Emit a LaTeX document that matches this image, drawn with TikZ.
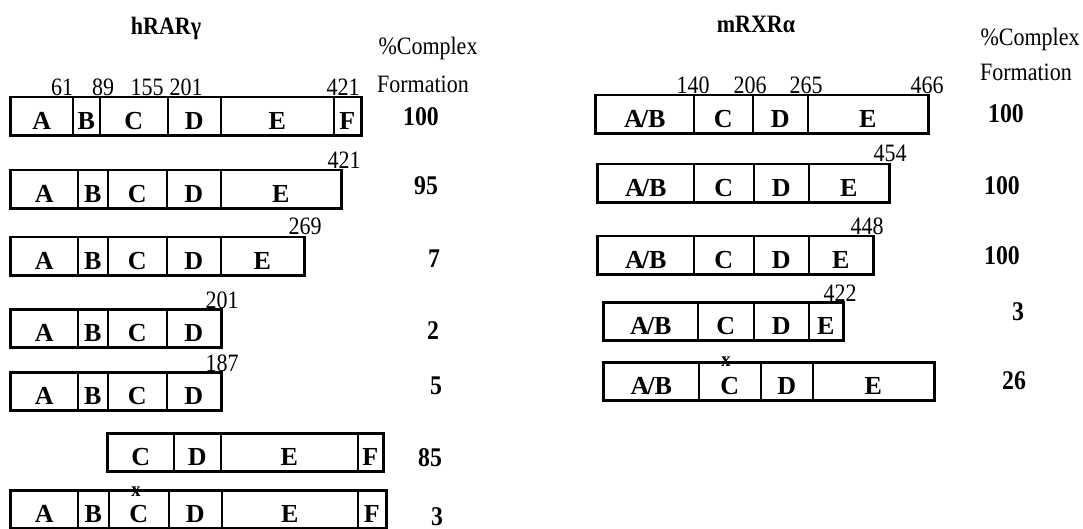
\documentclass[tikz,border=0pt]{standalone}
\usepackage{fontspec}
\setmainfont{Liberation Serif}[FakeStretch=0.88]
\newfontfamily\cellfont{Liberation Serif}

\tikzset{
  cellnode/.style={draw, line width=1.5pt, inner sep=0pt, minimum height=37pt},
  cellletter/.style={inner sep=0pt, font=\cellfont\bfseries\fontsize{26}{28}\selectfont},
  boxframe/.style={line width=2.7pt},
  cutlabel/.style={inner sep=0pt, anchor=base, font=\fontsize{25}{27}\selectfont},
  pct/.style={inner sep=0pt, anchor=base, font=\bfseries\fontsize{27}{29}\selectfont},
  colhead/.style={inner sep=0pt, font=\fontsize{25}{27}\selectfont},
  paneltitle/.style={inner sep=0pt, font=\bfseries\fontsize{25}{27}\selectfont},
  mut/.style={inner sep=0pt, font=\bfseries\fontsize{21}{22}\selectfont},
}

% one domain of a receptor bar: name, left, right, top, letter
\newcommand{\dseg}[5]{%
  \node[cellnode, minimum width={(#3-#2)*1pt}, anchor=north west] (#1) at (#2,#4) {};
  \node[cellletter, anchor=south] (#1t) at ([yshift=6pt]#1.south) {#5};}

\begin{document}
\begin{tikzpicture}[x=1pt, y=-1pt]
\useasboundingbox (0,0) rectangle (1083,529);

% ---------------- hRARgamma ----------------
\node[paneltitle] (ltitle) at (166,28) {hRARγ};
\node[colhead] (lhead1) at (428,48) {\%Complex};
\node[colhead] (lhead2) at (423,84) {Formation};

% full length
\dseg{la1}{10}{72}{97}{A}
\dseg{lb1}{72}{99}{97}{B}
\dseg{lc1}{99}{167}{97}{C}
\dseg{ld1}{167}{220}{97}{D}
\dseg{le1}{220}{333}{97}{E}
\dseg{lf1}{333}{360}{97}{F}
\draw[boxframe] (la1.north west) rectangle (lf1.south east);
\node[cutlabel] (lk61) at (62,96) {61};
\node[cutlabel] (lk89) at (103,96) {89};
\node[cutlabel] (lk155) at (147,96) {155};
\node[cutlabel] (lk201) at (186,96) {201};
\node[cutlabel] (lk421) at (343,96) {421};
\node[pct] (lp1) at (421,126) {100};

% 1-421
\dseg{la2}{10}{77}{170}{A}
\dseg{lb2}{77}{107}{170}{B}
\dseg{lc2}{107}{166}{170}{C}
\dseg{ld2}{166}{220}{170}{D}
\dseg{le2}{220}{340}{170}{E}
\draw[boxframe] (la2.north west) rectangle (le2.south east);
\node[cutlabel] (lk421b) at (344,169) {421};
\node[pct] (lp2) at (426,195) {95};

% 1-269
\dseg{la3}{10}{77}{237}{A}
\dseg{lb3}{77}{107}{237}{B}
\dseg{lc3}{107}{166}{237}{C}
\dseg{ld3}{166}{220}{237}{D}
\dseg{le3}{220}{303}{237}{E}
\draw[boxframe] (la3.north west) rectangle (le3.south east);
\node[cutlabel] (lk269) at (305,235) {269};
\node[pct] (lp3) at (434,267) {7};

% 1-201
\dseg{la4}{10}{77}{309}{A}
\dseg{lb4}{77}{107}{309}{B}
\dseg{lc4}{107}{166}{309}{C}
\dseg{ld4}{166}{220}{309}{D}
\draw[boxframe] (la4.north west) rectangle (ld4.south east);
\node[cutlabel] (lk201b) at (222,308) {201};
\node[pct] (lp4) at (433,339) {2};

% 1-187
\dseg{la5}{10}{77}{372}{A}
\dseg{lb5}{77}{107}{372}{B}
\dseg{lc5}{107}{166}{372}{C}
\dseg{ld5}{166}{220}{372}{D}
\draw[boxframe] (la5.north west) rectangle (ld5.south east);
\node[cutlabel] (lk187) at (222,371) {187};
\node[pct] (lp5) at (436,394) {5};

% C-F only
\dseg{lc6}{107}{173}{433}{C}
\dseg{ld6}{173}{220}{433}{D}
\dseg{le6}{220}{357}{433}{E}
\dseg{lf6}{357}{382}{433}{F}
\draw[boxframe] (lc6.north west) rectangle (lf6.south east);
\node[pct] (lp6) at (430,466) {85};

% point mutant in C
\dseg{la7}{10}{77}{490}{A}
\dseg{lb7}{77}{108}{490}{B}
\dseg{lc7}{108}{168}{490}{C}
\dseg{ld7}{168}{221}{490}{D}
\dseg{le7}{221}{357}{490}{E}
\dseg{lf7}{357}{385}{490}{F}
\draw[boxframe] (la7.north west) rectangle (lf7.south east);
\node[mut] (lx7) at (136,492) {x};
\node[pct] (lp7) at (437,525) {3};

% ---------------- mRXRalpha ----------------
\node[paneltitle] (rtitle) at (756,24) {mRXRα};
\node[colhead] (rhead1) at (1030,39) {\%Complex};
\node[colhead] (rhead2) at (1026,72) {Formation};

% full length
\dseg{ra1}{595}{693}{95}{A\kern-2pt/B}
\dseg{rc1}{693}{752}{95}{C}
\dseg{rd1}{752}{807}{95}{D}
\dseg{re1}{807}{927}{95}{E}
\draw[boxframe] (ra1.north west) rectangle (re1.south east);
\node[cutlabel] (rk140) at (693,94) {140};
\node[cutlabel] (rk206) at (750,94) {206};
\node[cutlabel] (rk265) at (806,94) {265};
\node[cutlabel] (rk466) at (927,94) {466};
\node[pct] (rp1) at (1006,123) {100};

% 1-454
\dseg{ra2}{597}{693}{164}{A\kern-2pt/B}
\dseg{rc2}{693}{753}{164}{C}
\dseg{rd2}{753}{808}{164}{D}
\dseg{re2}{808}{888}{164}{E}
\draw[boxframe] (ra2.north west) rectangle (re2.south east);
\node[cutlabel] (rk454) at (890,162) {454};
\node[pct] (rp2) at (1002,195) {100};

% 1-448
\dseg{ra3}{597}{693}{236}{A\kern-2pt/B}
\dseg{rc3}{693}{753}{236}{C}
\dseg{rd3}{753}{808}{236}{D}
\dseg{re3}{808}{872}{236}{E}
\draw[boxframe] (ra3.north west) rectangle (re3.south east);
\node[cutlabel] (rk448) at (867,234) {448};
\node[pct] (rp3) at (1002,265) {100};

% 1-422
\dseg{ra4}{603}{697}{302}{A\kern-2pt/B}
\dseg{rc4}{697}{753}{302}{C}
\dseg{rd4}{753}{808}{302}{D}
\dseg{re4}{808}{842}{302}{E}
\draw[boxframe] (ra4.north west) rectangle (re4.south east);
\node[cutlabel] (rk422) at (840,301) {422};
\node[pct] (rp4) at (1018,320) {3};

% point mutant in C
\dseg{ra5}{603}{698}{362}{A\kern-2pt/B}
\dseg{rc5}{698}{760}{362}{C}
\dseg{rd5}{760}{812}{362}{D}
\dseg{re5}{812}{933}{362}{E}
\draw[boxframe] (ra5.north west) rectangle (re5.south east);
\node[mut] (rx5) at (726,362) {x};
\node[pct] (rp5) at (1014,389) {26};
\end{tikzpicture}
\end{document}
